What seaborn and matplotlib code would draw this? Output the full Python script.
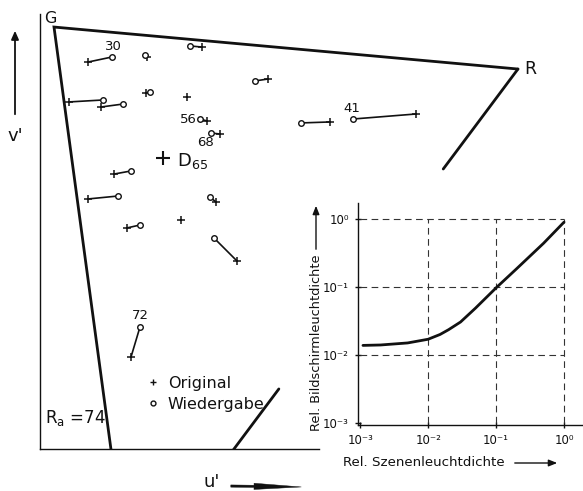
import numpy as np
import pandas as pd
import matplotlib
matplotlib.use("Agg")
import matplotlib.pyplot as plt
import seaborn as sns
from matplotlib.lines import Line2D
from matplotlib.patches import FancyArrowPatch

# ---------------- data ----------------
# colour gamut vertices in (u', v'): G, R, B
gamut_u = [0.1200, 0.4514, 0.1741]
gamut_v = [0.5614, 0.5314, 0.1604]
# v' range of the R-B edge that is hidden behind the inset
rb_hidden_v = [0.4600, 0.3029]

# original colours (+)
orig_u = [0.1443, 0.1864, 0.2257, 0.2729, 0.1307, 0.1536, 0.1857, 0.2150, 0.2293, 0.2386,
          0.1629, 0.1443, 0.2357, 0.1721, 0.2107, 0.2507, 0.3171, 0.3786, 0.1750]
orig_v = [0.5364, 0.5400, 0.5471, 0.5243, 0.5079, 0.5043, 0.5143, 0.5114, 0.4943, 0.4850,
          0.4564, 0.4386, 0.4364, 0.4179, 0.4236, 0.3943, 0.4936, 0.4993, 0.3257]
# reproduced colours (o); NaN = coincides with the original
repr_u = [0.1614, 0.1850, 0.2171, 0.2636, 0.1550, 0.1693, 0.1886, np.nan, 0.2243, 0.2321,
          0.1750, 0.1657, 0.2314, 0.1814, np.nan, 0.2343, 0.2964, 0.3336, 0.1814]
repr_v = [0.5400, 0.5414, 0.5479, 0.5229, 0.5093, 0.5064, 0.5150, np.nan, 0.4957, 0.4857,
          0.4586, 0.4407, 0.4400, 0.4200, np.nan, 0.4107, 0.4929, 0.4957, 0.3471]
sample_ids = {"30": 0, "56": 8, "68": 9, "41": 17, "72": 18}
d65_u, d65_v = 0.1979, 0.4679

# inset: tone reproduction curve
scene_lum = [0.0011, 0.002, 0.005, 0.01, 0.015, 0.02, 0.03, 0.05, 0.1, 0.2, 0.5, 1.0]
screen_lum = [0.0138, 0.0140, 0.0150, 0.0170, 0.0200, 0.0235, 0.0305, 0.049, 0.097, 0.185, 0.44, 0.90]
decades = [1e-3, 1e-2, 1e-1, 1e0]
decade_labels = ["10\u207b\u00b3", "10\u207b\u00b2", "10\u207b\u00b9", "10\u2070"]

# ---------------- style ----------------
sns.set_theme(style="white")
plt.rcParams["font.family"] = ["DejaVu Sans"]
INK = "#111111"

W, H = 583, 491
fig = plt.figure(figsize=(W / 100, H / 100), dpi=100)
fig.patch.set_facecolor("white")

def fx(px):
    return px / W

def fy(py):
    return 1 - py / H

# ---------------- main u'v' diagram ----------------
ax = fig.add_axes([fx(40), fy(449), (583 - 40) / W, (449 - 14) / H])
ax.set_xlim(0.11, 0.11 + 543 / 1400)
ax.set_ylim(0.26, 0.26 + 435 / 1400)
ax.set_facecolor("none")
for s in ["top", "right"]:
    ax.spines[s].set_visible(False)
for s in ["left", "bottom"]:
    ax.spines[s].set_color(INK)
    ax.spines[s].set_linewidth(1.0)
ax.spines["bottom"].set_bounds(0.11, 0.11 + 279 / 1400)
ax.set_xticks([])
ax.set_yticks([])

gu = np.array(gamut_u)
gv = np.array(gamut_v)
# G-R and G-B edges
ax.plot([gu[1], gu[0], gu[2]], [gv[1], gv[0], gv[2]], color=INK, lw=2.0,
        solid_joinstyle="miter")
# R-B edge, split around the inset
rb_u_at = lambda v: gu[1] + (gu[2] - gu[1]) * (gv[1] - v) / (gv[1] - gv[2])
ax.plot([gu[1], rb_u_at(rb_hidden_v[0])], [gv[1], rb_hidden_v[0]], color=INK, lw=2.0)
ax.plot([rb_u_at(rb_hidden_v[1]), gu[2]], [rb_hidden_v[1], gv[2]], color=INK, lw=2.0)

# connecting segments
for ou, ov, ru, rv in zip(orig_u, orig_v, repr_u, repr_v):
    if not np.isnan(ru):
        ax.plot([ou, ru], [ov, rv], color=INK, lw=1.2, zorder=2)

df_o = pd.DataFrame({"u": orig_u, "v": orig_v})
df_r = pd.DataFrame({"u": repr_u, "v": repr_v}).dropna()
sns.scatterplot(data=df_o, x="u", y="v", marker="+", s=40, color=INK,
                linewidth=1.1, ax=ax, zorder=3, legend=False)
sns.scatterplot(data=df_r, x="u", y="v", marker="o", s=16, facecolor="white",
                edgecolor=INK, linewidth=1.0, ax=ax, zorder=4, legend=False)
ax.scatter([d65_u], [d65_v], marker="+", s=110, color=INK, linewidths=1.5, zorder=4)
ax.set_xlabel("")
ax.set_ylabel("")

# sample numbers
offsets = {"30": (0.7, 7.2), "56": (-8.6, 0), "68": (-3.6, -6.5), "41": (-0.7, 7.9), "72": (0, 8.6)}
for lab, idx in sample_ids.items():
    ax.annotate(lab, (repr_u[idx], repr_v[idx]), xytext=offsets[lab],
                textcoords="offset points", ha="center", va="center",
                fontsize=9.5, color=INK)
ax.annotate(r"D$_{\mathregular{65}}$", (d65_u, d65_v), xytext=(10, -2), textcoords="offset points",
            ha="left", va="center", fontsize=13, color=INK)

# vertex labels
ax.annotate("G", (gu[0], gv[0]), xytext=(-3, 6), textcoords="offset points",
            ha="center", va="center", fontsize=11.5, color=INK)
ax.annotate("R", (gu[1], gv[1]), xytext=(9, 0), textcoords="offset points",
            ha="center", va="center", fontsize=12.5, color=INK)
ax.text(0.009, 0.072, r"R$_{\mathregular{a}}$ =74", transform=ax.transAxes,
        ha="left", va="center", fontsize=12, color=INK)

# legend
handles = [Line2D([], [], ls="none", marker="+", ms=5, mew=1.0, color=INK),
           Line2D([], [], ls="none", marker="o", ms=3.5, mew=1.0, mfc="white", mec=INK)]
leg = ax.legend(handles, ["Original", "Wiedergabe"], loc="upper left",
                bbox_to_anchor=((147 - 40) / 543, (449 - 376) / 435),
                frameon=False, handlelength=0.8, handletextpad=0.5,
                labelspacing=0.38, borderpad=0, borderaxespad=0, fontsize=11.5)
for t in leg.get_texts():
    t.set_color(INK)

# axis names with arrows
fig.text(fx(15), fy(136), "v'", ha="center", va="center", fontsize=13, color=INK)
fig.text(fx(212), fy(482), "u'", ha="center", va="center", fontsize=13, color=INK)
fig.add_artist(FancyArrowPatch(
    (fx(15), fy(117)), (fx(15), fy(28)), transform=fig.transFigure,
    arrowstyle="-|>,head_length=5,head_width=2.2", color=INK, lw=1.3))
fig.add_artist(FancyArrowPatch(
    (fx(228), fy(486)), (fx(304), fy(487)), transform=fig.transFigure,
    arrowstyle="simple,head_length=34,head_width=4.5,tail_width=1.6", color=INK, lw=0.3))

# ---------------- inset: luminance transfer ----------------
ai = fig.add_axes([fx(358), fy(425), (583 - 358) / W, (425 - 203) / H])
ai.set_facecolor("white")
ai.set_xscale("log")
ai.set_yscale("log")
ai.set_xlim(9.3e-4, 1.9)
ai.set_ylim(9.3e-4, 1.72)
for s in ["top", "right"]:
    ai.spines[s].set_visible(False)
for s in ["left", "bottom"]:
    ai.spines[s].set_color(INK)
    ai.spines[s].set_linewidth(1.0)
ai.hlines(decades[1:], decades[0], decades[-1], colors="#333333", linestyles=(0, (6, 4)), lw=0.8)
ai.vlines(decades[1:], decades[0], decades[-1], colors="#333333", linestyles=(0, (6, 4)), lw=0.8)
sns.lineplot(x=scene_lum, y=screen_lum, ax=ai, color=INK, lw=2.0)
ai.set_xticks(decades)
ai.set_xticklabels(decade_labels)
ai.set_yticks(decades)
ai.set_yticklabels(decade_labels)
ai.minorticks_off()
ai.tick_params(axis="both", which="major", direction="inout", length=5, width=1,
               colors=INK, labelsize=8.5, pad=4, left=True, bottom=True)
ai.set_xlabel("")
ai.set_ylabel("")

fig.text(fx(316), fy(343), "Rel. Bildschirmleuchtdichte", rotation=90,
         ha="center", va="center", fontsize=9.3, color=INK)
fig.text(fx(424), fy(463), "Rel. Szenenleuchtdichte", ha="center", va="center",
         fontsize=9.6, color=INK)
fig.add_artist(FancyArrowPatch(
    (fx(316), fy(252)), (fx(316), fy(203)), transform=fig.transFigure,
    arrowstyle="-|>,head_length=5,head_width=2", color=INK, lw=1.0))
fig.add_artist(FancyArrowPatch(
    (fx(512), fy(463)), (fx(560), fy(463)), transform=fig.transFigure,
    arrowstyle="-|>,head_length=5,head_width=2", color=INK, lw=1.0))

fig.savefig("out.png", dpi=100, facecolor="white")
